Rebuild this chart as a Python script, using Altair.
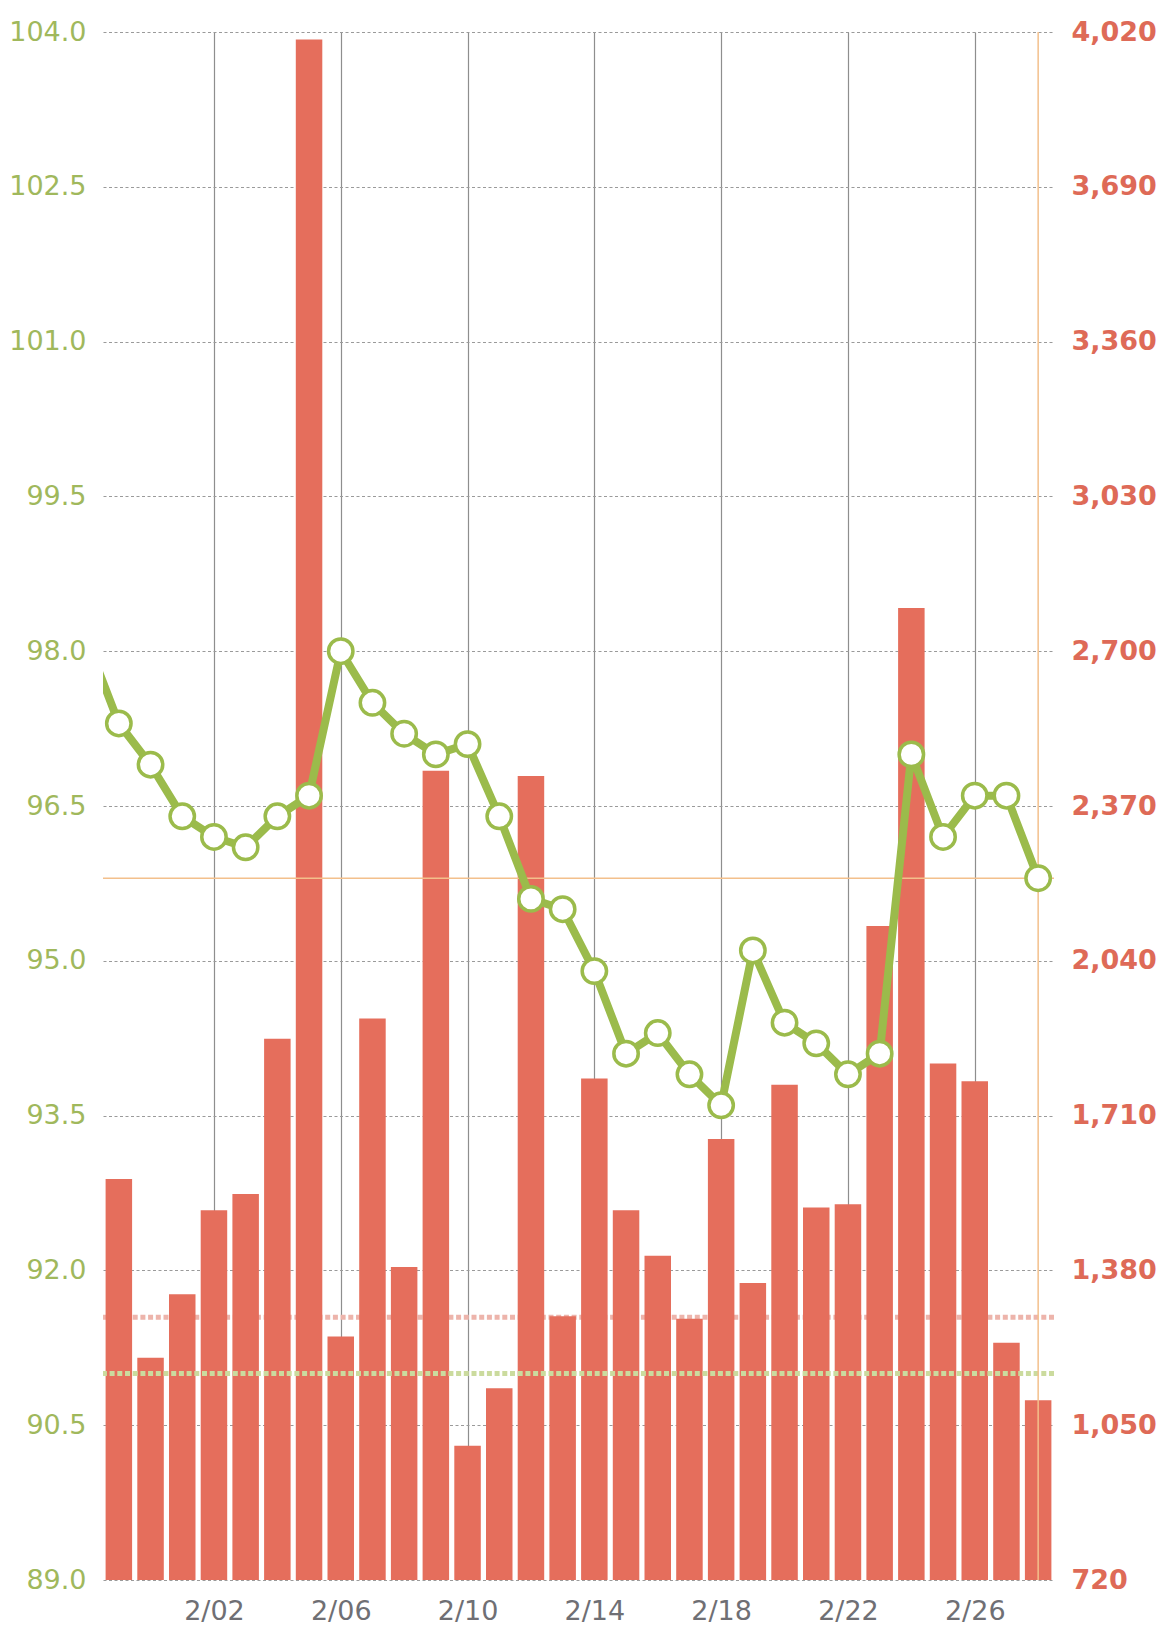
import altair as alt
import pandas as pd

# ---------------- data ----------------
weight_dates = [
    "2025-01-29", "2025-01-30", "2025-01-31", "2025-02-01", "2025-02-02", "2025-02-03",
    "2025-02-04", "2025-02-05", "2025-02-06", "2025-02-07", "2025-02-08", "2025-02-09",
    "2025-02-10", "2025-02-11", "2025-02-12", "2025-02-13", "2025-02-14", "2025-02-15",
    "2025-02-16", "2025-02-17", "2025-02-18", "2025-02-19", "2025-02-20", "2025-02-21",
    "2025-02-22", "2025-02-23", "2025-02-24", "2025-02-25", "2025-02-26", "2025-02-27",
    "2025-02-28",
]
weights = [
    98.1, 97.3, 96.9, 96.4, 96.2, 96.1,
    96.4, 96.6, 98.0, 97.5, 97.2, 97.0,
    97.1, 96.4, 95.6, 95.5, 94.9, 94.1,
    94.3, 93.9, 93.6, 95.1, 94.4, 94.2,
    93.9, 94.1, 97.0, 96.2, 96.6, 96.6,
    95.8,
]
calorie_dates = weight_dates[1:]
calories = [
    1575, 1194, 1329, 1508, 1543,
    1874, 4004, 1239, 1917, 1387, 2445,
    1006, 1129, 2434, 1282, 1789, 1508,
    1411, 1277, 1660, 1353, 1776, 1514,
    1521, 2114, 2792, 1821, 1783, 1226,
    1103,
]
left_ticks = [89.0, 90.5, 92.0, 93.5, 95.0, 96.5, 98.0, 99.5, 101.0, 102.5, 104.0]
right_ticks = [720, 1050, 1380, 1710, 2040, 2370, 2700, 3030, 3360, 3690, 4020]
x_tick_days = ["2025-02-02", "2025-02-06", "2025-02-10", "2025-02-14",
               "2025-02-18", "2025-02-22", "2025-02-26"]
x_domain_days = ["2025-01-29", "2025-02-28"]
weight_goal = 91.0
calorie_goal = 1280

# ---------------- styles ----------------
FONT = "DejaVu Sans"
GREEN = "#9BBB4B"
GREEN_LABEL = "#A0B85C"
RED = "#E56E5C"
RED_LABEL = "#DE6A57"
ORANGE = "#F3C08C"
PINK_DOT = "#EDB4AB"
GREEN_DOT = "#CBDB9E"


def dt(s, hours=0):
    y, m, d = (int(p) for p in s.split("-"))
    return alt.DateTime(year=y, month=m, date=d, hours=hours)


wdf = pd.DataFrame({"date": [d + "T00:00:00" for d in weight_dates], "weight": weights})
pdf = wdf.iloc[1:]  # markers only for the visible days
cdf = pd.DataFrame({"date": [d + "T00:00:00" for d in calorie_dates], "cal": calories})
last_df = pd.DataFrame({"date": [calorie_dates[-1] + "T00:00:00"], "weight": [weights[-1]]})
wgoal_df = pd.DataFrame({"v": [weight_goal]})
cgoal_df = pd.DataFrame({"v": [calorie_goal]})

x_scale = alt.Scale(
    domain=[dt(x_domain_days[0], 12), dt(x_domain_days[1], 12)], nice=False, padding=0
)
x_axis = alt.Axis(
    values=[dt(s) for s in x_tick_days], format="%-m/%d", grid=True,
    gridColor="#8E8E8E", gridWidth=1.2, domain=False, ticks=False,
    labelFontSize=27, labelColor="#6F6F74", labelPadding=18, title=None,
    labelFont=FONT, labelFlush=False,
)
x_enc = alt.X("date:T", scale=x_scale, axis=x_axis)

left_scale = alt.Scale(domain=[left_ticks[0], left_ticks[-1]], nice=False, zero=False)
left_axis = alt.Axis(
    orient="left", values=left_ticks, format=".1f", grid=True,
    gridColor="#9A9A9A", gridWidth=1.2, gridDash=[3, 2.5], domain=False, ticks=False,
    labelColor=GREEN_LABEL, labelFontSize=27, labelPadding=17, title=None,
    labelFont=FONT, labelFlush=False,
)
right_scale = alt.Scale(domain=[right_ticks[0], right_ticks[-1]], nice=False, zero=False)
right_axis = alt.Axis(
    orient="right", values=right_ticks, format=",d", grid=False, domain=False, ticks=False,
    labelColor=RED_LABEL, labelFontSize=27, labelFontWeight="bold", labelPadding=17,
    title=None, labelFont=FONT, labelFlush=False,
)

# ---------------- calorie group (right axis) ----------------
cal_goal_rule = alt.Chart(cgoal_df).mark_rule(
    color=PINK_DOT, strokeWidth=5, strokeDash=[5, 2.7]
).encode(y=alt.Y("v:Q", scale=right_scale, axis=right_axis))

bars = alt.Chart(cdf).mark_bar(size=26.5, color=RED, clip=True).encode(
    x=x_enc,
    y=alt.Y("cal:Q", scale=right_scale, axis=right_axis),
)
cal_group = alt.layer(cal_goal_rule, bars)

# ---------------- weight group (left axis) ----------------
w_goal_rule = alt.Chart(wgoal_df).mark_rule(
    color=GREEN_DOT, strokeWidth=5, strokeDash=[5, 2.7]
).encode(y=alt.Y("v:Q", scale=left_scale, axis=left_axis))

h_rule = alt.Chart(last_df).mark_rule(color=ORANGE, strokeWidth=1.5).encode(
    y=alt.Y("weight:Q", scale=left_scale, axis=left_axis)
)
v_rule = alt.Chart(last_df).mark_rule(color=ORANGE, strokeWidth=1.5).encode(x=x_enc)

line = alt.Chart(wdf).mark_line(color=GREEN, strokeWidth=8, clip=True).encode(
    x=x_enc, y=alt.Y("weight:Q", scale=left_scale, axis=left_axis)
)
points = alt.Chart(pdf).mark_circle(
    fill="white", stroke=GREEN, strokeWidth=3.5, size=595, opacity=1, clip=True
).encode(x=x_enc, y=alt.Y("weight:Q", scale=left_scale, axis=left_axis))

weight_group = alt.layer(w_goal_rule, h_rule, v_rule, line, points)

chart = (
    alt.layer(cal_group, weight_group)
    .resolve_scale(y="independent")
    .properties(
        width=951,
        height=1548,
        autosize=alt.AutoSizeParams(type="none"),
        padding={"left": 95, "top": 24, "right": 107, "bottom": 52},
        background="white",
    )
    .configure_view(stroke=None)
)

chart.save("out.html", embed_options={"renderer": "svg", "actions": False})
